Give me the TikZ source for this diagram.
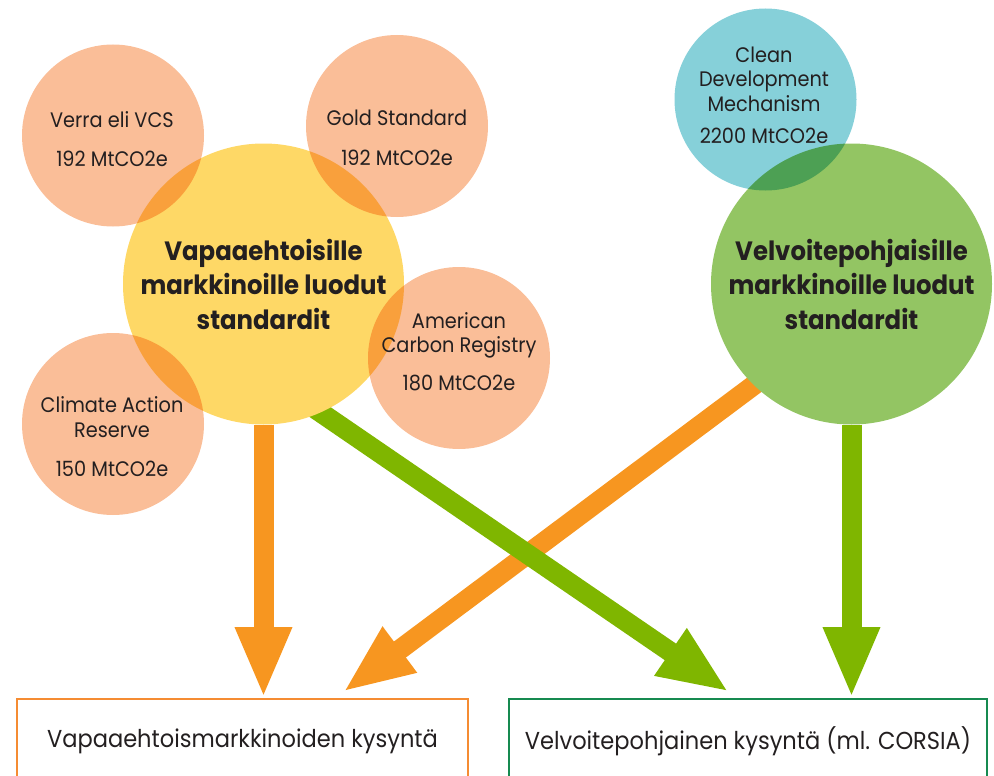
\documentclass[tikz,border=0pt]{standalone}
\usepackage{fontspec}
\setmainfont[FakeStretch=0.92]{Poppins}
\usetikzlibrary{arrows.meta,backgrounds,positioning}

\definecolor{peach}{RGB}{250,190,152}
\definecolor{sunny}{RGB}{254,216,102}
\definecolor{aqua}{RGB}{134,208,217}
\definecolor{leaf}{RGB}{147,197,99}
\definecolor{flowor}{RGB}{247,150,32}
\definecolor{flowgr}{RGB}{127,182,0}
\definecolor{boxor}{RGB}{245,140,50}
\definecolor{boxgr}{RGB}{22,138,80}
\definecolor{ink}{RGB}{35,31,32}

\tikzset{
  std/.style={circle,minimum size=182pt,inner sep=0pt,fill=peach,blend mode=multiply},
  stdtext/.style={align=center,inner sep=0pt,text=ink,font=\fontsize{21}{24.5}\selectfont},
  big/.style={circle,minimum size=281pt,inner sep=0pt,align=center,text=ink,
    font=\fontsize{26.5}{34.5}\selectfont\bfseries},
  flow/.style={line width=20pt,-{Triangle[length=71pt,width=52pt]}},
  demand/.style={draw,line width=2pt,minimum height=84pt,anchor=north,text=ink,
    font=\fontsize{24.5}{28}\selectfont}
}

\begin{document}
\begin{tikzpicture}[x=1pt,y=-1pt]
  \useasboundingbox (0,0) rectangle (994,776);
  \clip (0,0) rectangle (994,776);

  % lahteet
  \node[big,fill=sunny] (vol) at (263.5,284) {Vapaaehtoisille\\markkinoille luodut\\standardit};
  \node[big,fill=leaf] (obl) at (851.5,284) {Velvoitepohjaisille\\markkinoille luodut\\standardit};

  \node[std] (verra) at (113,135.5) {};
  \node[std] (gold) at (397,126) {};
  \node[std] (acr) at (459,358) {};
  \node[std] (car) at (113,424) {};
  \node[std,fill=aqua] (cdm) at (765.5,99.5) {};

  \node[stdtext] (verra-txt) at (112,139.5) {Verra eli VCS\\[14.5pt]192 MtCO2e};
  \node[stdtext] (gold-txt) at (397,138) {Gold Standard\\[15.5pt]192 MtCO2e};
  \node[stdtext] (acr-txt) at (459,351.5) {American\\Carbon Registry\\[13.5pt]180 MtCO2e};
  \node[stdtext] (car-txt) at (112,436.5) {Climate Action\\Reserve\\[14.5pt]150 MtCO2e};
  \node[stdtext] (cdm-txt) at (764,95) {Clean\\Development\\Mechanism\\[7.5pt]2200 MtCO2e};

  % kysynta
  \node[demand,draw=boxor,minimum width=451pt] (volbox) at (242.5,698) {Vapaaehtoismarkkinoiden kysyntä};
  \node[demand,draw=boxgr,minimum width=478pt] (oblbox) at (748,698) {Velvoitepohjainen kysyntä (ml. CORSIA)};

  \coordinate (voltip) at (343,692);
  \coordinate (obltip) at (729,692);

  \begin{pgfonlayer}{background}
    \draw[flow,flowor,xshift=3.5pt] (vol) -- (vol |- volbox.north);
    \draw[flow,flowgr,xshift=1.5pt] (obl) -- (obl |- oblbox.north);
    \draw[flow,flowor,shorten <=-25pt] (obl.-134) -- (voltip);
    \draw[flow,flowgr,shorten <=-25pt] (vol.-66) -- (obltip);
  \end{pgfonlayer}
\end{tikzpicture}
\end{document}
